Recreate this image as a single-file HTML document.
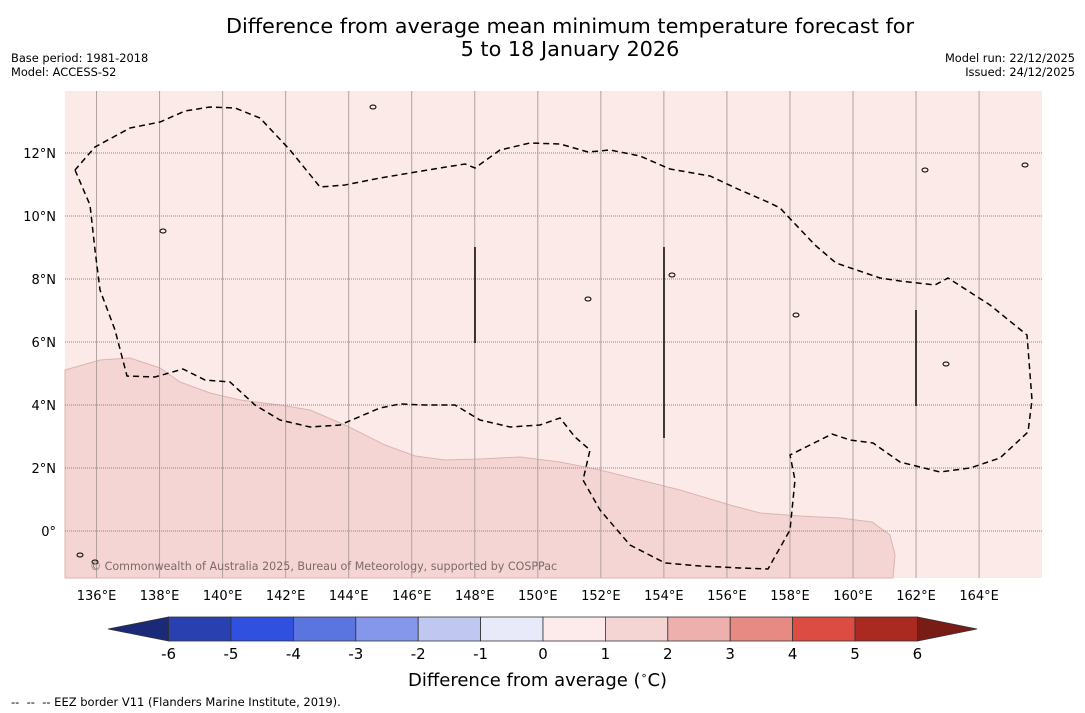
<!DOCTYPE html>
<html><head><meta charset="utf-8">
<style>
body{margin:0;width:1085px;height:713px;background:#fff;font-family:"DejaVu Sans","Liberation Sans",sans-serif;overflow:hidden;position:relative}
.t{position:absolute;white-space:nowrap;color:#000}
</style></head><body>
<div class="t" style="left:0;width:1140px;text-align:center;top:15px;font-size:20.8px;line-height:23px">Difference from average mean minimum temperature forecast for<br>5 to 18 January 2026</div>
<div class="t" style="left:11px;top:51px;font-size:11.4px;line-height:14px">Base period: 1981-2018<br>Model: ACCESS-S2</div>
<div class="t" style="right:10px;top:51px;font-size:11.4px;line-height:14px;text-align:right">Model run: 22/12/2025<br>Issued: 24/12/2025</div>
<svg id="svg" width="1085" height="713" style="position:absolute;left:0;top:0"></svg>
<div class="t" style="left:408px;top:669px;font-size:18px">Difference from average (<sup style="font-size:11px">∘</sup>C)</div>
<div class="t" style="left:11px;top:695px;font-size:11.5px">--&nbsp; --&nbsp; -- EEZ border V11 (Flanders Marine Institute, 2019).</div>
<script>
const lonTicks=[136,138,140,142,144,146,148,150,152,154,156,158,160,162,164];
const latTicks=[0,2,4,6,8,10,12];
const cbTicks=[-6,-5,-4,-3,-2,-1,0,1,2,3,4,5,6];
const cbColors=["#2840b0","#3050e0","#5a74e0","#8497ea","#c0c8f2","#e8eafa","#fcebea","#f5d5d4","#eeb0ac","#e88a84","#dc4c42","#aa2a22"];
const cbUnder="#1a2a78", cbOver="#7a1c16";
const NS="http://www.w3.org/2000/svg";
const svg=document.getElementById('svg');
const X=lon=>65+(lon-135)*31.52, Y=lat=>531-lat*31.5;
function el(t,a,p){const e=document.createElementNS(NS,t);for(const k in a)e.setAttribute(k,a[k]);(p||svg).appendChild(e);return e;}
const bg=el('rect',{x:65,y:91,width:977,height:487,fill:'#fbeae8'});


const land="65,370 100,360 130,358 160,368 180,382 210,393 240,400 280,405 310,410 345,425 385,445 415,456 445,460 480,459 520,457 560,462 600,470 640,480 680,490 730,505 760,513 800,516 840,518 872,522 890,535 895,555 893,578 65,578";
const lp=el('polygon',{points:land,fill:'#f5d5d4',stroke:'#dcb4b2','stroke-width':1});


lonTicks.forEach(l=>{
 const g=el('line',{x1:X(l),x2:X(l),y1:91,y2:578,stroke:'#b0a2a2','stroke-width':1});
 
 
 const t=el('text',{x:X(l),y:600,'text-anchor':'middle','font-size':13,'font-family':'DejaVu Sans, sans-serif'});t.textContent=l+'°E';
 
 
});
latTicks.forEach(l=>{
 const g=el('line',{x1:65,x2:1042,y1:Y(l),y2:Y(l),stroke:'#a08080','stroke-width':1,'stroke-dasharray':'1,1'});
 
 
 const t=el('text',{x:56,y:Y(l)+5,'text-anchor':'end','font-size':13,'font-family':'DejaVu Sans, sans-serif'});t.textContent=l===0?'0°':l+'°N';
 
 
});
const eez="75,170 90,205 95,250 100,290 115,330 127,376 155,377 183,369 205,380 230,382 255,405 280,420 310,427 340,425 380,408 400,404 425,405 455,405 480,420 510,427 540,425 560,418 575,437 590,450 583,480 600,510 630,545 665,563 700,566 740,568 768,569 790,530 795,480 790,455 810,445 832,434 850,440 873,443 900,462 940,472 970,468 1000,458 1028,432 1032,400 1027,335 990,305 948,278 935,285 900,281 880,278 836,263 815,245 780,208 770,203 740,190 710,176 670,169 640,156 610,150 588,152 560,144 530,143 500,150 475,168 465,164 440,168 380,178 345,185 320,187 290,150 260,118 235,108 210,107 185,111 160,122 130,128 95,147 75,170";
const ez=el('polyline',{points:eez,fill:'none',stroke:'#000','stroke-width':1.5,'stroke-dasharray':'6,4'});


[[475,247,343],[664,247,438],[916,310,406]].forEach(v=>{
 const l=el('line',{x1:v[0],x2:v[0],y1:v[1],y2:v[2],stroke:'#000','stroke-width':1.5});
 
 
});
[[373,107],[163,231],[588,299],[796,315],[946,364],[672,275],[1025,165],[925,170],[80,555],[95,562]].forEach(p=>{
 const c=el('ellipse',{cx:p[0],cy:p[1],rx:3,ry:2,fill:'none',stroke:'#000','stroke-width':1});
 
 
});
const cp=el('text',{x:90,y:570,'font-size':11.1,fill:'#7a6a6a','font-family':'DejaVu Sans, sans-serif'});cp.textContent='© Commonwealth of Australia 2025, Bureau of Meteorology, supported by COSPPac';


const CX=v=>543+v*62.4, cy0=617, cy1=641;
cbColors.forEach((c,i)=>{
 const r=el('rect',{x:CX(cbTicks[i]),y:cy0,width:62.4,height:cy1-cy0,fill:c,stroke:'#333','stroke-width':0.8});
 
 
});
const u=el('polygon',{points:`108,629 ${CX(-6)},${cy0} ${CX(-6)},${cy1}`,fill:cbUnder,stroke:'#333','stroke-width':0.8});


const o=el('polygon',{points:`977,629 ${CX(6)},${cy0} ${CX(6)},${cy1}`,fill:cbOver,stroke:'#333','stroke-width':0.8});


cbTicks.forEach(v=>{
 const t=el('text',{x:CX(v),y:659,'text-anchor':'middle','font-size':15,'font-family':'DejaVu Sans, sans-serif'});t.textContent=v;
 
 
});
</script>
</body></html>
